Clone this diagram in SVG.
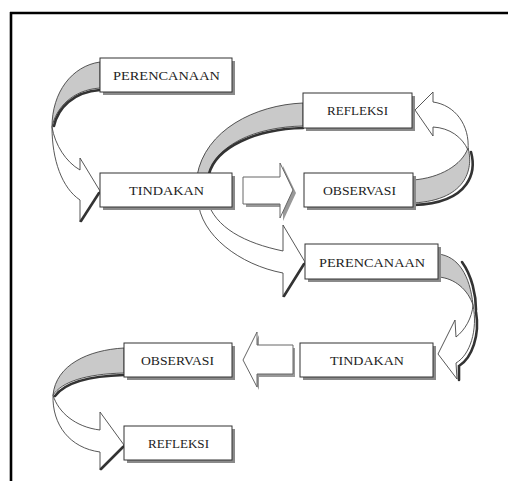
<svg xmlns="http://www.w3.org/2000/svg" width="508" height="481" viewBox="0 0 508 481">
<style>
.frame{stroke:#000;stroke-width:2.6;fill:none}
.box{fill:#fff;stroke:#333;stroke-width:1}
.bsh{fill:#8a8a8a}
.lbl{font-family:"Liberation Serif","DejaVu Serif",serif;font-size:12px;fill:#222;text-anchor:middle}
.back{fill:#c9c9c9;stroke:#444;stroke-width:0.9}
.front{fill:#fff;stroke:#444;stroke-width:0.9}
.sh{fill:none;stroke:#333;stroke-width:2.6;stroke-linecap:round}
.arr{fill:#fff;stroke:#666;stroke-width:1}
.arrsh{fill:#999}
</style>
<rect width="508" height="481" fill="#fff"/>
<line class="frame" x1="10" y1="13" x2="508" y2="13"/>
<line class="frame" x1="11" y1="12" x2="11" y2="481"/>
<g id="connectors">
  <!-- PERENCANAAN -> TINDAKAN (top left) -->
  <path class="back" d="M100,62 C72,66 52,92 52,127 C56,108 72,90 100,88 Z"/>
  <path class="sh" d="M54,126 C58,108 73,92 100,90"/>
  <path class="front" d="M52,127 C52,160 62,188 80,200 L80,222 L100,191 L80,158 L80,170 C66,162 55,145 52,127 Z"/>
  <path class="sh" d="M99,193 L81,221"/>
  <!-- REFLEKSI -> behind TINDAKAN -> PERENCANAAN -->
  <path class="back" d="M303,103 C255,105 205,130 197,176 L208,176 C215,145 255,127 303,126 Z"/>
  <path class="sh" d="M209,174 C216,147 256,129 303,128"/>
  <path class="front" d="M198,200 C200,235 240,265 283,273 L283,297 L305,262 L283,225 L283,251 C245,243 215,228 207,200 Z"/>
  <path class="sh" d="M304,264 L284,296"/>
  <!-- OBSERVASI -> REFLEKSI (right) -->
  <path class="back" d="M413,180 C440,178 462,165 468,148 C473,165 470,200 413,203 Z"/>
  <path class="sh" d="M471,152 C476,170 472,203 414,205"/>
  <path class="front" d="M468,150 C470,125 455,105 433,102 L433,92 L415,110 L433,136 L433,127 C450,128 462,137 468,150 Z"/>
  <!-- PERENCANAAN -> TINDAKAN (right middle) -->
  <path class="back" d="M438,254 C458,256 470,275 473,305 C468,290 455,278 438,277 Z"/>
  <path class="sh" d="M462,262 C472,276 476,295 476,310" stroke="#666" stroke-width="2"/>
  <path class="front" d="M473,305 C478,330 470,355 456,363 L457,379 L438,354 L455,320 L456,337 C465,330 472,318 473,305 Z"/>
  <path class="sh" d="M476,312 C480,335 472,358 459,366 L459,380" stroke="#888" stroke-width="2"/>
  <!-- OBSERVASI -> REFLEKSI (bottom left) -->
  <path class="back" d="M124,348 C88,350 56,365 53,395 C62,382 85,374 124,373 Z"/>
  <path class="sh" d="M55,396 C64,384 86,376 124,375"/>
  <path class="front" d="M53,395 C52,425 70,448 100,452 L100,470 L124,445 L100,412 L100,430 C75,427 58,412 53,395 Z"/>
  <path class="sh" d="M123,447 L101,469"/>
  <!-- TINDAKAN -> OBSERVASI straight -->
  <polygon class="arrsh" points="246,180 283,180 283,166 296,193 283,221 283,207 246,207"/>
  <polygon class="arr" points="243,177 280,177 280,163 293,190 280,218 280,204 243,204"/>
  <!-- TINDAKAN -> OBSERVASI straight left -->
  <polygon class="arrsh" points="245,363 259,335 259,348 295,348 295,377 259,377 259,390"/>
  <polygon class="arr" points="243,360 257,332 257,345 293,345 293,374 257,374 257,387"/>
</g>
<g id="perencanaan1">
  <rect class="bsh" x="103" y="61" width="132" height="34"/>
  <rect class="box" x="100" y="58" width="132" height="34"/>
  <text class="lbl" x="166.5" y="80" textLength="107" lengthAdjust="spacingAndGlyphs">PERENCANAAN</text>
</g>
<g id="tindakan1">
  <rect class="bsh" x="103" y="176" width="132" height="34"/>
  <rect class="box" x="100" y="173" width="132" height="34"/>
  <text class="lbl" x="166.5" y="195" textLength="75" lengthAdjust="spacingAndGlyphs">TINDAKAN</text>
</g>
<g id="refleksi1">
  <rect class="bsh" x="306" y="96" width="109" height="35"/>
  <rect class="box" x="303" y="93" width="109" height="35"/>
  <text class="lbl" x="357.5" y="115" textLength="61" lengthAdjust="spacingAndGlyphs">REFLEKSI</text>
</g>
<g id="observasi1">
  <rect class="bsh" x="307" y="176" width="109" height="34"/>
  <rect class="box" x="304" y="173" width="109" height="34"/>
  <text class="lbl" x="359.5" y="195" textLength="73" lengthAdjust="spacingAndGlyphs">OBSERVASI</text>
</g>
<g id="perencanaan2">
  <rect class="bsh" x="308" y="247" width="133" height="35"/>
  <rect class="box" x="305" y="244" width="133" height="35"/>
  <text class="lbl" x="372" y="267" textLength="106" lengthAdjust="spacingAndGlyphs">PERENCANAAN</text>
</g>
<g id="tindakan2">
  <rect class="bsh" x="303" y="346" width="133" height="34"/>
  <rect class="box" x="300" y="343" width="133" height="34"/>
  <text class="lbl" x="367" y="365" textLength="74" lengthAdjust="spacingAndGlyphs">TINDAKAN</text>
</g>
<g id="observasi2">
  <rect class="bsh" x="127" y="346" width="108" height="34"/>
  <rect class="box" x="124" y="343" width="108" height="34"/>
  <text class="lbl" x="177.5" y="365" textLength="73" lengthAdjust="spacingAndGlyphs">OBSERVASI</text>
</g>
<g id="refleksi2">
  <rect class="bsh" x="127" y="429" width="108" height="34"/>
  <rect class="box" x="124" y="426" width="108" height="34"/>
  <text class="lbl" x="178.5" y="448" textLength="61" lengthAdjust="spacingAndGlyphs">REFLEKSI</text>
</g>
</svg>
